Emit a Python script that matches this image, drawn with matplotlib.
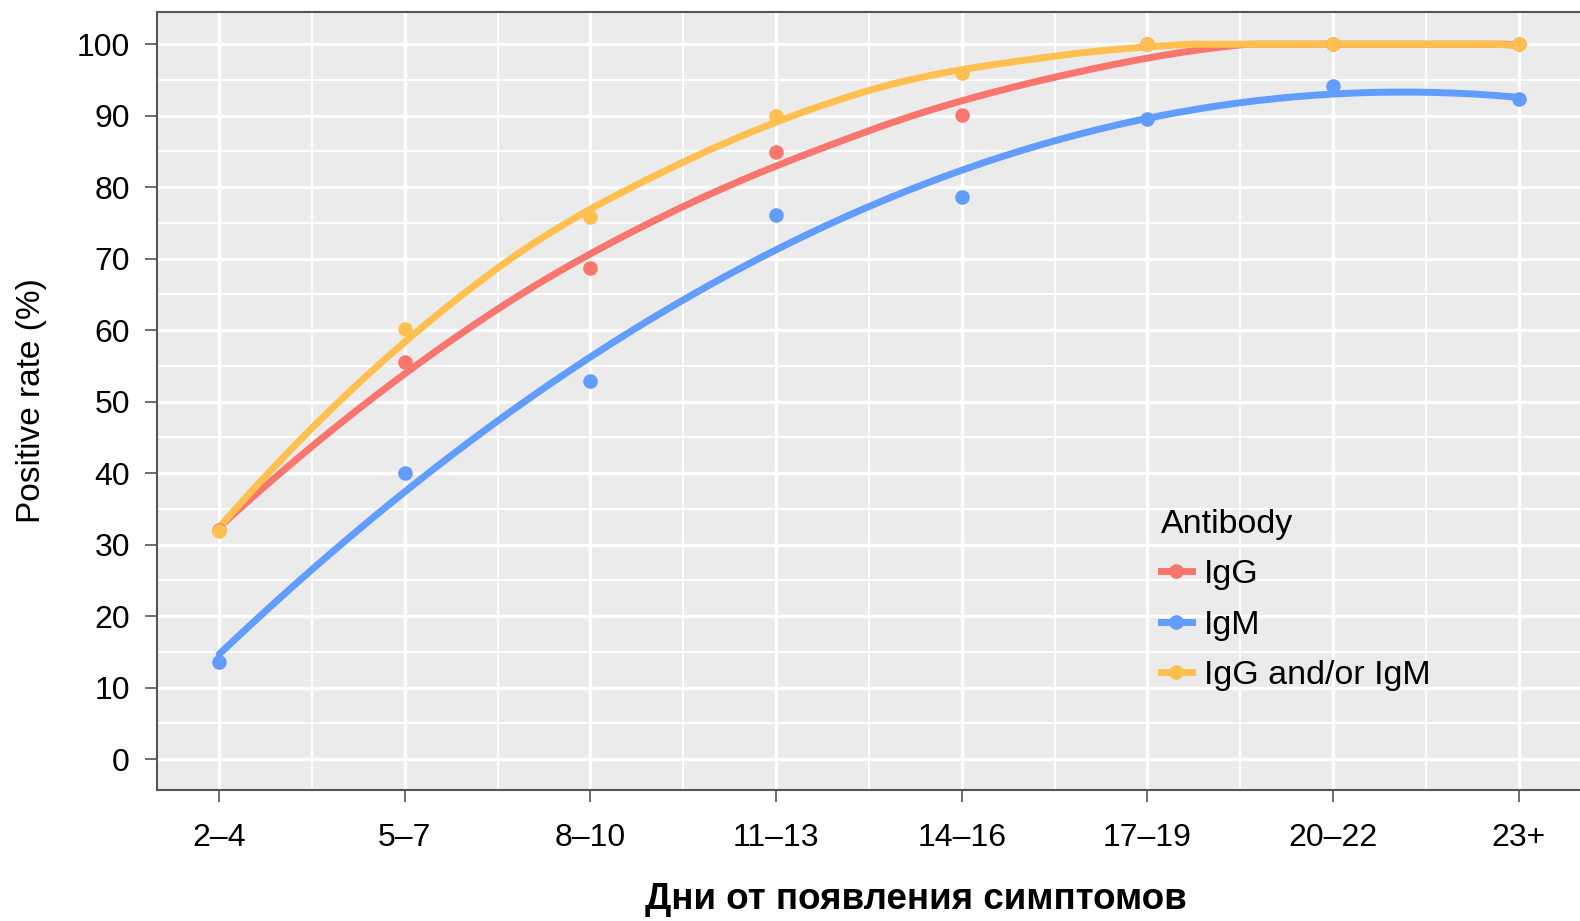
import numpy as np
import matplotlib
matplotlib.use("Agg")
import matplotlib.pyplot as plt
from matplotlib.lines import Line2D

categories = ["2–4", "5–7", "8–10", "11–13", "14–16", "17–19", "20–22", "23+"]
igg = [32.0, 55.5, 68.7, 84.9, 90.1, 100.0, 100.0, 100.0]
igm = [13.6, 40.0, 52.9, 76.1, 78.6, 89.5, 94.1, 92.4]
either = [31.9, 60.1, 75.9, 89.9, 95.9, 100.0, 100.0, 100.0]
series_names = ["IgG", "IgM", "IgG and/or IgM"]
colors = ["#F8766D", "#619CFF", "#FFC04F"]
smoothers = ["loess", "quadratic", "loess"]
yticks = [0, 10, 20, 30, 40, 50, 60, 70, 80, 90, 100]


def local_fit(x, y, x0, span=0.75):
    n = len(x)
    q = int(np.floor(span * n))
    d = np.abs(x - x0)
    h = np.sort(d)[q - 1]
    u = np.clip(d / h, 0, 1)
    w = (1 - u ** 3) ** 3
    X = np.vstack([np.ones(n), x - x0, (x - x0) ** 2]).T
    A = X.T @ (w[:, None] * X)
    b = X.T @ (w * y)
    beta = np.linalg.lstsq(A, b, rcond=None)[0]
    return beta[0], beta[1]


def loess(x, y, xs, span=0.75):
    """loess (degree 2) evaluated at kd-tree vertices + cubic Hermite interpolation."""
    x = np.asarray(x, float)
    y = np.asarray(y, float)
    rng = x.max() - x.min()
    mids = (x[:-1] + x[1:]) / 2
    verts = np.concatenate([[x.min() - 0.1 * rng], mids, [x.max() + 0.1 * rng]])
    vals = np.array([local_fit(x, y, v, span) for v in verts])
    out = np.empty_like(xs)
    for k, xx in enumerate(xs):
        i = np.clip(np.searchsorted(verts, xx) - 1, 0, len(verts) - 2)
        x0, x1 = verts[i], verts[i + 1]
        hh = x1 - x0
        t = (xx - x0) / hh
        f0, d0 = vals[i]
        f1, d1 = vals[i + 1]
        h00 = 2 * t ** 3 - 3 * t ** 2 + 1
        h10 = t ** 3 - 2 * t ** 2 + t
        h01 = -2 * t ** 3 + 3 * t ** 2
        h11 = t ** 3 - t ** 2
        out[k] = h00 * f0 + h10 * hh * d0 + h01 * f1 + h11 * hh * d1
    return out


plt.rcParams["font.family"] = ["Liberation Sans", "DejaVu Sans"]
fig = plt.figure(figsize=(15.8, 9.21), dpi=100)
ax = fig.add_axes([157 / 1580, 1 - 790 / 921, 1 - 157 / 1580, (790 - 12) / 921])
ax.set_facecolor("#EBEBEB")

xpos = np.arange(len(categories))
xs = np.linspace(xpos[0], xpos[-1], 200)
data = [igg, igm, either]

for vals, c, sm in zip(data, colors, smoothers):
    if sm == "quadratic":
        ys = np.polyval(np.polyfit(xpos, vals, 2), xs)
    else:
        ys = loess(xpos, vals, xs)
    ys = np.minimum(ys, 100)
    ax.plot(xs, ys, color=c, lw=5, solid_capstyle="round", zorder=3)
for vals, c in zip(data, colors):
    ax.scatter(xpos, vals, s=110, color=c, zorder=4, linewidths=0)

ax.set_xlim(-0.335, 7.33)
ax.set_ylim(-4.3, 104.5)
ax.set_xticks(xpos)
ax.set_xticklabels(categories)
ax.set_yticks(yticks)
ax.set_xticks(xpos[:-1] + 0.5, minor=True)
ax.set_yticks(np.arange(5, 101, 10), minor=True)
ax.grid(True, which="major", color="white", lw=2.4, zorder=0)
ax.grid(True, which="minor", color="white", lw=1.3, zorder=0)
ax.set_axisbelow(True)
ax.tick_params(axis="both", which="major", labelsize=23, length=8.5, width=1.2,
               color="#555555", labelcolor="black")
ax.tick_params(axis="x", which="major", pad=15)
ax.tick_params(axis="y", which="major", pad=11)
ax.tick_params(which="minor", length=0)
for s in ["left", "bottom", "top"]:
    ax.spines[s].set_color("#555555")
    ax.spines[s].set_linewidth(1.5)
ax.spines["right"].set_visible(False)

ax.set_ylabel("Positive rate (%)", fontsize=24)
ax.yaxis.set_label_coords((47 - 157) / 1423, 0.5)

fig.text(916 / 1580, 1 - 909 / 921, "Дни от появления симптомов", fontsize=26.5,
         fontweight="bold", ha="center", va="baseline")

handles = [Line2D([0], [0], color=c, lw=5, marker="o", markersize=9.5) for c in colors]
leg = ax.legend(handles, series_names, title="Antibody", loc="upper left",
                bbox_to_anchor=(1161 / 1580, 1 - 509 / 921), bbox_transform=fig.transFigure,
                frameon=False, fontsize=24.5, title_fontsize=24.5, handlelength=0.9,
                handletextpad=0.35, labelspacing=0.57, borderpad=0, borderaxespad=0,
                alignment="left")

fig.savefig("out.png", dpi=100)
